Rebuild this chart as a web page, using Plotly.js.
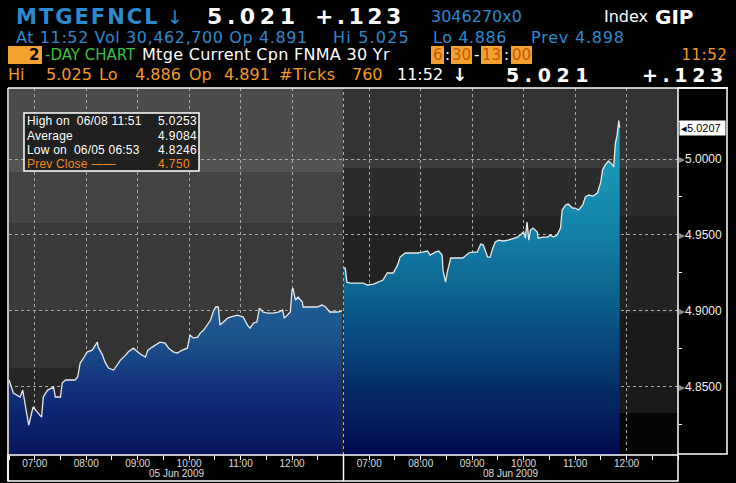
<!DOCTYPE html>
<html><head><meta charset="utf-8">
<script src="https://cdn.plot.ly/plotly-3.0.1.min.js"></script>
<style>html,body{margin:0;padding:0;background:#000}#chart{width:736px;height:483px}</style>
</head><body><div id="chart"></div>
<script>
// ---------- data ----------
const day1Times = ['06:30','06:35','06:43','06:46','06:53','06:58','07:03','07:08','07:10','07:15','07:22','07:24','07:30','07:32','07:36','07:47','07:50','07:53','07:57','08:01','08:07','08:13','08:14','08:19','08:22','08:26','08:32','08:36','08:40','08:46','08:49','08:55','09:00','09:03','09:09','09:12','09:17','09:23','09:26','09:32','09:36','09:42','09:46','09:52','09:58','10:01','10:05','10:10','10:13','10:17','10:21','10:25','10:28','10:31','10:34','10:36','10:40','10:45','10:48','10:56','11:00','11:03','11:08','11:11','11:15','11:19','11:22','11:26','11:32','11:38','11:44','11:49','11:51','11:54','11:58','12:00','12:01','12:04','12:07','12:12','12:13','12:21','12:29','12:35','12:39','12:44','12:53','12:58'];
const day1Values = [4.8544,4.8458,4.8432,4.8478,4.8246,4.8366,4.8333,4.8300,4.8432,4.8478,4.8497,4.8432,4.8432,4.8524,4.8544,4.8544,4.8563,4.8656,4.8689,4.8728,4.8741,4.8794,4.8761,4.8708,4.8662,4.8623,4.8610,4.8642,4.8675,4.8708,4.8728,4.8754,4.8728,4.8715,4.8695,4.8741,4.8761,4.8787,4.8794,4.8787,4.8754,4.8728,4.8722,4.8741,4.8754,4.8840,4.8820,4.8827,4.8853,4.8873,4.8906,4.8939,4.8992,4.9025,4.9025,4.8906,4.8926,4.8952,4.8959,4.8972,4.8965,4.8959,4.8906,4.8886,4.8919,4.8926,4.9018,4.8992,4.8985,4.8985,4.8992,4.9005,4.8952,4.8972,4.8992,4.9137,4.9150,4.9071,4.9091,4.9058,4.9025,4.9025,4.9025,4.9038,4.9025,4.8992,4.8992,4.8998];
const day2Times = ['06:30','06:32','06:34','06:38','06:53','06:58','07:05','07:10','07:16','07:21','07:28','07:33','07:36','07:42','07:48','07:56','08:02','08:08','08:11','08:17','08:21','08:25','08:26','08:29','08:31','08:35','08:40','08:49','08:52','08:56','09:00','09:06','09:10','09:13','09:18','09:21','09:24','09:27','09:31','09:36','09:42','09:47','09:53','09:56','10:00','10:02','10:04','10:06','10:08','10:11','10:16','10:17','10:22','10:28','10:31','10:35','10:39','10:43','10:45','10:49','10:52','10:57','11:00','11:04','11:09','11:12','11:16','11:21','11:26','11:30','11:32','11:35','11:39','11:44','11:45','11:47','11:49','11:51','11:52'];
const day2Values = [4.9282,4.9282,4.9189,4.9183,4.9183,4.9170,4.9176,4.9189,4.9203,4.9249,4.9249,4.9301,4.9354,4.9381,4.9381,4.9381,4.9387,4.9394,4.9367,4.9387,4.9394,4.9367,4.9268,4.9189,4.9255,4.9348,4.9348,4.9348,4.9361,4.9381,4.9387,4.9387,4.9440,4.9433,4.9354,4.9354,4.9413,4.9453,4.9466,4.9460,4.9466,4.9473,4.9486,4.9499,4.9519,4.9479,4.9585,4.9466,4.9532,4.9545,4.9519,4.9479,4.9486,4.9486,4.9499,4.9486,4.9499,4.9545,4.9664,4.9697,4.9703,4.9677,4.9677,4.9664,4.9697,4.9750,4.9763,4.9756,4.9776,4.9848,4.9928,4.9960,4.9987,4.9960,4.9947,5.0105,5.0158,5.0253,5.0207];
const dayLabels = ['05 Jun 2009','08 Jun 2009'];
const hourLabels = ['07:00','08:00','09:00','10:00','11:00','12:00'];
const yTickValues = [4.85, 4.90, 4.95, 5.00];
const lastValue = 5.0207;
const statLabels = ['High on  06/08 11:51','Average','Low on  06/05 06:53','Prev Close \u2014\u2014'];
const statValues = ['5.0253','4.9084','4.8246','4.750'];

// ---------- helpers ----------
const SESSION_OPEN = 6.5, SESSION_LEN = 6.5;
const hrs = s => { const [h,m] = s.split(':').map(Number); return h + m/60; };
const toX = (t, d) => d*SESSION_LEN + hrs(t) - SESSION_OPEN;
const W=736, H=483, ML=9, MR=58, MT=88, MB=28;
const PW=W-ML-MR, PH=H-MT-MB;
const px = x => (x-ML)/PW;
const py = y => (H-MB-y)/PH;
const YMIN=4.805, YMAX=5.0468;

const x1 = day1Times.map(t=>toX(t,0));
const x2 = day2Times.map(t=>toX(t,1));

const tickVals=[], tickText=[];
[0,1].forEach(d=>hourLabels.forEach(l=>{tickVals.push(toX(l,d)); tickText.push(l);}));

const lineStyle = {color:'#e8e8e8', width:1.3};
const traces = [
  {x:x1, y:day1Values, mode:'lines', line:lineStyle, fill:'tozeroy',
   fillgradient:{type:'vertical', start:YMIN, stop:4.915,
     colorscale:[[0,'#071458'],[0.07,'#0a1a62'],[0.25,'#0d2672'],[0.44,'#13357d'],[0.68,'#1c528a'],[1,'#1f6298']]},
   hoverinfo:'skip', showlegend:false},
  {x:x2, y:day2Values, mode:'lines', line:lineStyle, fill:'tozeroy',
   fillgradient:{type:'vertical', start:YMIN, stop:5.026,
     colorscale:[[0,'#000850'],[0.11,'#041e5e'],[0.2,'#062c68'],[0.29,'#083f78'],[0.43,'#0a5a8a'],[0.52,'#0e6a95'],[0.656,'#1280a8'],[0.88,'#1a9ab8'],[1,'#22acc8']]},
   hoverinfo:'skip', showlegend:false}
];

// ---------- background bands & frames ----------
const shapes = [];
const band = (x0,x1_,y0,y1,c)=>shapes.push({type:'rect',xref:'x',yref:'paper',x0:x0,x1:x1_,y0:py(y1),y1:py(y0),fillcolor:c,line:{width:0},layer:'below'});
band(0,6.5,88,159,'#4b4b4b'); band(0,6.5,159,172,'#545454'); band(0,6.5,172,223,'#444444');
band(0,6.5,223,311,'#3a3a3a'); band(0,6.5,311,368,'#333333'); band(0,6.5,368,455,'#262626');
band(6.5,13,88,159,'#333333'); band(6.5,13,159,168,'#3b3b3b'); band(6.5,13,168,216,'#2c2c2c');
band(6.5,13,216,313,'#222222'); band(6.5,13,313,413,'#1a1a1a'); band(6.5,13,413,455,'#050505');
shapes.push({type:'line',xref:'x',yref:'paper',x0:6.5,x1:6.5,y0:0,y1:1,line:{color:'#b0b0b0',width:1,dash:'3px,3px'}});
const WH='#ffffff';
shapes.push({type:'line',xref:'paper',yref:'paper',x0:px(8),x1:px(728),y0:py(88),y1:py(88),line:{color:WH,width:1.5}});
shapes.push({type:'line',xref:'paper',yref:'paper',x0:px(8),x1:px(8),y0:py(88),y1:py(481),line:{color:WH,width:1.5}});
shapes.push({type:'rect',xref:'paper',yref:'paper',x0:px(678),x1:px(727),y0:py(454),y1:py(88),line:{color:WH,width:1.5}});
shapes.push({type:'rect',xref:'paper',yref:'paper',x0:px(8),x1:px(678),y0:py(481),y1:py(455),line:{color:WH,width:1.5}});
shapes.push({type:'line',xref:'x',yref:'paper',x0:6.5,x1:6.5,y0:py(481),y1:py(455),line:{color:WH,width:1.5}});
shapes.push({type:'rect',xref:'paper',yref:'paper',x0:px(24),x1:px(199),y0:py(171),y1:py(113),fillcolor:'rgba(28,28,28,0.92)',line:{color:WH,width:1.5}});
const ORANGE='#f3a232';
const hbox=(a,b)=>shapes.push({type:'rect',xref:'paper',yref:'paper',x0:px(a),x1:px(b),y0:py(64),y1:py(46),fillcolor:ORANGE,line:{width:0}});
hbox(8,42); hbox(431,444); hbox(451,472); hbox(481,502); hbox(511,532);

// ---------- annotations ----------
const ann = [], spacing = [];
const HF='DejaVu Sans, sans-serif', SF='Liberation Sans, Arial, sans-serif';
const T=(text,x,y,size,color,family,ls,anchor)=>{
  ann.push({text:text,xref:'paper',yref:'paper',x:px(x),y:py(y),xanchor:anchor||'left',align:anchor||'left',yanchor:'middle',showarrow:false,borderpad:0,font:{size:size,color:color,family:family||HF}});
  spacing.push(ls||0);
};
const BLUE='#2c8ad0', OR='#f39a22', DKO='#c25800';
// line 1
T('<b>MTGEFNCL</b>',15,17,21,BLUE,HF,2.0);
T('\u2193',166,17,19,BLUE);
T('<b>5.021</b>',206,17,22,'#ffffff',HF,4.6);
T('<b>+.123</b>',314,17,22,'#ffffff',HF,3.4);
T('3046270x0',430,17,16,BLUE);
T('Index',603,17,16,'#ffffff');
T('<b>GIP</b>',654,17,20,'#ffffff');
// line 2
T('At 11:52 Vol 30,462,700 Op 4.891',15,37,16,BLUE,HF,0.6);
T('Hi 5.025',332,37,16,BLUE,HF,1.2);
T('Lo 4.886',432,37,16,BLUE,HF,0.6);
T('Prev 4.898',530,37,16,BLUE,HF,0.8);
// line 3
T('<b>2</b>',28,55.5,15,'#000000');
T('-DAY CHART',44,55,15,'#3cc23c');
T('Mtge Current Cpn FNMA 30 Yr',141,55,16,'#ffffff',HF,0.3);
T('6',437.5,54.5,15,DKO,HF,0,'center');
T(':',447.5,54.5,15,'#ffffff',HF,0,'center');
T('30',461.5,54.5,15,DKO,HF,0,'center');
T('-',476.5,54.5,15,'#ffffff',HF,0,'center');
T('13',491.5,54.5,15,DKO,HF,0,'center');
T(':',506.5,54.5,15,'#ffffff',HF,0,'center');
T('00',521.5,54.5,15,DKO,HF,0,'center');
T('11:52',728,54.5,15,OR,HF,0.5,'right');
// line 4
T('Hi',7,74,16,OR); T('5.025',45,74,16,OR); T('Lo',98,74,16,OR); T('4.886',134,74,16,OR);
T('Op',188,74,16,OR); T('4.891',223,74,16,OR); T('#Ticks',278,74,16,OR,HF,0.5); T('760',351,74,16,OR);
T('11:52',396,74,16,'#ffffff');
T('<b>\u2193</b>',451,74,18,'#ffffff');
T('<b>5.021</b>',505,75,19,'#ffffff',HF,5.6);
T('<b>+.123</b>',641,75,19,'#ffffff',HF,4.6);
// stats box
const rows=[121.5,135.5,149.5,163.5];
statLabels.forEach((s,i)=>T(s,26,rows[i],12,i===3?'#f08a1c':'#ffffff',SF,0.2));
statValues.forEach((s,i)=>T(s,157,rows[i],12,i===3?'#f08a1c':'#ffffff',SF,0.4));
// day labels
dayLabels.forEach((s,d)=>{ann.push({text:s,xref:'x',yref:'paper',x:d*SESSION_LEN+SESSION_LEN/2,y:py(473),xanchor:'center',yanchor:'middle',showarrow:false,font:{size:10,color:'#dddddd',family:SF}}); spacing.push(0);});
// last value tag
ann.push({text:'\u25C2'+lastValue.toFixed(4)+' ',xref:'paper',yref:'y',x:px(679),y:lastValue,xanchor:'left',yanchor:'middle',showarrow:false,bgcolor:'#ffffff',borderpad:1,font:{size:11,color:'#000000',family:SF}}); spacing.push(0);

const layout = {
  width:W, height:H, margin:{l:ML,r:MR,t:MT,b:MB,pad:0},
  paper_bgcolor:'#000000', plot_bgcolor:'#000000',
  font:{family:SF,color:'#e0e0e0'},
  xaxis:{range:[0,13], tickmode:'array', tickvals:tickVals, ticktext:tickText, ticks:'', showline:false, zeroline:false,
    showgrid:true, gridcolor:'#a8a8a8', gridwidth:1, griddash:'3px,3px', tickfont:{size:10,color:'#dddddd',family:SF}, ticklabelstandoff:1,
    minor:{dtick:0.5, tick0:0, ticks:'outside', ticklen:4, tickcolor:'#ffffff', tickwidth:1, showgrid:false}},
  yaxis:{range:[YMIN,YMAX], side:'right', tickmode:'array', tickvals:yTickValues,
    ticktext:yTickValues.map(v=>'<span style="color:#8c8c8c">\u25B8</span>'+v.toFixed(4)),
    ticks:'', showline:false, zeroline:false, ticklabelstandoff:0,
    showgrid:true, gridcolor:'#a8a8a8', gridwidth:1, griddash:'3px,3px', tickfont:{size:12,color:'#eeeeee',family:SF},
    minor:{tick0:4.825, dtick:0.05, ticks:'outside', ticklen:3, tickcolor:'#ffffff', tickwidth:1, showgrid:false}},
  shapes:shapes, annotations:ann
};
Plotly.newPlot('chart', traces, layout, {staticPlot:true, displayModeBar:false}).then(()=>{
  document.querySelectorAll('#chart g.annotation').forEach(g=>{
    const i = +g.getAttribute('data-index');
    if (spacing[i]) g.querySelectorAll('text').forEach(t=>{t.style.letterSpacing = spacing[i]+'px';});
  });
});
</script></body></html>
